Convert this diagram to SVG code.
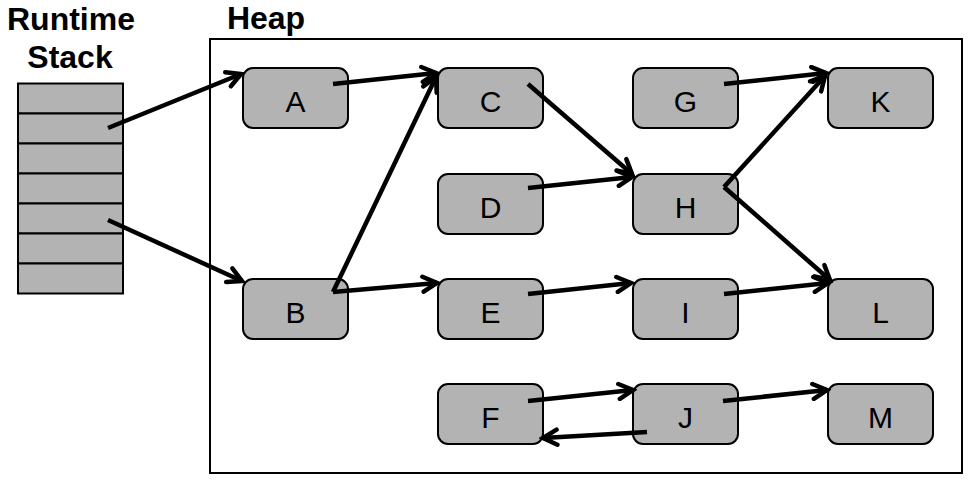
<svg xmlns="http://www.w3.org/2000/svg" width="979" height="491" viewBox="0 0 979 491">
<defs>
<style>
.node rect{fill:#b3b3b3;stroke:#000;stroke-width:2}
.node text{font-family:"Liberation Sans",Arial,sans-serif;font-size:30px;text-anchor:middle;fill:#000}
.title{font-family:"Liberation Sans",Arial,sans-serif;font-size:32px;font-weight:bold;text-anchor:middle;fill:#000}
.cell{fill:#b3b3b3;stroke:#000;stroke-width:2}
#connectors line{stroke:#000;stroke-width:4.5;marker-end:url(#arr)}
</style>
<marker id="arr" markerUnits="userSpaceOnUse" viewBox="-18 -10 22 20" refX="0" refY="0" markerWidth="22" markerHeight="20" orient="auto">
<path d="M-14,-7.5 L0,0 L-14,7.5" fill="none" stroke="#000" stroke-width="4.5" stroke-linecap="round" stroke-linejoin="miter"/>
</marker>
</defs>
<rect width="979" height="491" fill="#fff"/>
<text class="title" x="71" y="30">Runtime</text>
<text class="title" x="70" y="68">Stack</text>
<text class="title" x="266" y="29">Heap</text>
<rect x="210" y="39" width="752" height="434" fill="none" stroke="#000" stroke-width="2"/>
<g id="stack">
<rect class="cell" x="18" y="83.5" width="105" height="30"/>
<rect class="cell" x="18" y="113.5" width="105" height="30"/>
<rect class="cell" x="18" y="143.5" width="105" height="30"/>
<rect class="cell" x="18" y="173.5" width="105" height="30"/>
<rect class="cell" x="18" y="203.5" width="105" height="30"/>
<rect class="cell" x="18" y="233.5" width="105" height="30"/>
<rect class="cell" x="18" y="263.5" width="105" height="30"/>
</g>
<g id="A" class="node"><rect x="243" y="68" width="105" height="60" rx="10"/><text x="295.5" y="112">A</text></g>
<g id="C" class="node"><rect x="438" y="68" width="105" height="60" rx="10"/><text x="490.5" y="112">C</text></g>
<g id="G" class="node"><rect x="633" y="68" width="105" height="60" rx="10"/><text x="685.5" y="112">G</text></g>
<g id="K" class="node"><rect x="828" y="68" width="105" height="60" rx="10"/><text x="880.5" y="112">K</text></g>
<g id="D" class="node"><rect x="438" y="174" width="105" height="60" rx="10"/><text x="490.5" y="218">D</text></g>
<g id="H" class="node"><rect x="633" y="174" width="105" height="60" rx="10"/><text x="685.5" y="218">H</text></g>
<g id="B" class="node"><rect x="243" y="279" width="105" height="60" rx="10"/><text x="295.5" y="323">B</text></g>
<g id="E" class="node"><rect x="438" y="279" width="105" height="60" rx="10"/><text x="490.5" y="323">E</text></g>
<g id="I" class="node"><rect x="633" y="279" width="105" height="60" rx="10"/><text x="685.5" y="323">I</text></g>
<g id="L" class="node"><rect x="828" y="279" width="105" height="60" rx="10"/><text x="880.5" y="323">L</text></g>
<g id="F" class="node"><rect x="438" y="384" width="105" height="60" rx="10"/><text x="490.5" y="428">F</text></g>
<g id="J" class="node"><rect x="633" y="384" width="105" height="60" rx="10"/><text x="685.5" y="428">J</text></g>
<g id="M" class="node"><rect x="828" y="384" width="105" height="60" rx="10"/><text x="880.5" y="428">M</text></g>
<g id="connectors">
<line x1="108" y1="128" x2="241" y2="74"/>
<line x1="108" y1="220" x2="242" y2="281"/>
<line x1="333" y1="84" x2="436" y2="73"/>
<line x1="333" y1="292" x2="436" y2="77"/>
<line x1="333" y1="292" x2="437" y2="283"/>
<line x1="528" y1="84" x2="632" y2="174"/>
<line x1="528" y1="188" x2="632" y2="177"/>
<line x1="724" y1="84" x2="826" y2="73"/>
<line x1="724" y1="187" x2="825" y2="76"/>
<line x1="724" y1="187" x2="830" y2="280"/>
<line x1="528" y1="294" x2="631" y2="283"/>
<line x1="724" y1="294" x2="828" y2="283"/>
<line x1="528" y1="401" x2="633" y2="390"/>
<line x1="647" y1="432" x2="543" y2="438"/>
<line x1="723" y1="401" x2="827" y2="390"/>
</g>
</svg>
